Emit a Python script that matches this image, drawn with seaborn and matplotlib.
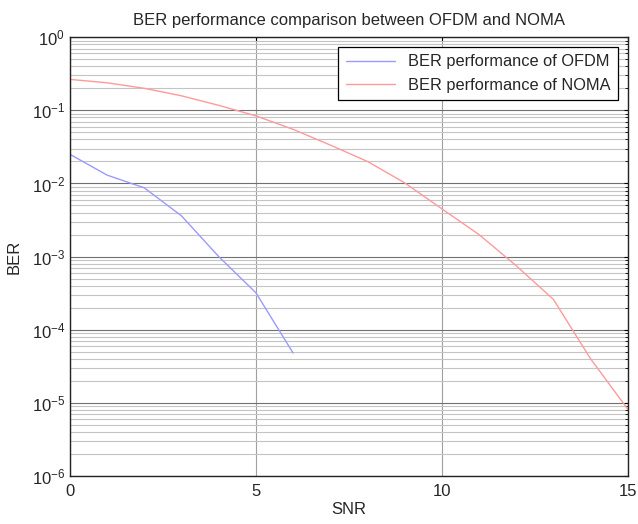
import numpy as np
import pandas as pd
import matplotlib
matplotlib.use("Agg")
import matplotlib.pyplot as plt
import seaborn as sns
from matplotlib.ticker import LogLocator, NullFormatter

snr_ofdm = [0, 1, 2, 3, 4, 5, 6]
ber_ofdm = [0.025, 0.013, 0.0087, 0.0036, 0.001, 0.00032, 0.000048]

snr_noma = [0, 1, 2, 3, 4, 5, 6, 7, 8, 9, 10, 11, 12, 13, 14, 15]
ber_noma = [0.265, 0.238, 0.20, 0.158, 0.117, 0.084, 0.055, 0.0335, 0.020, 0.0102,
            0.0045, 0.002, 0.00075, 0.00026, 0.00004, 0.0000082]

label_ofdm = "BER performance of OFDM"
label_noma = "BER performance of NOMA"

df = pd.concat([
    pd.DataFrame({"SNR": snr_ofdm, "BER": ber_ofdm, "series": label_ofdm}),
    pd.DataFrame({"SNR": snr_noma, "BER": ber_noma, "series": label_noma}),
])

sns.set_style("white")
plt.rcParams["font.family"] = ["Liberation Sans", "DejaVu Sans"]
plt.rcParams["mathtext.fontset"] = "custom"
plt.rcParams["mathtext.rm"] = "Liberation Sans"

fig = plt.figure(figsize=(6.38, 5.24), dpi=100)
ax = fig.add_axes([0.1097, 0.0916, 0.8743, 0.8374])

sns.lineplot(data=df, x="SNR", y="BER", hue="series",
             palette={label_ofdm: "#9a9aff", label_noma: "#ff9a9a"},
             linewidth=1.0, ax=ax)

ax.set_yscale("log")
ax.set_xlim(0, 15)
ax.set_ylim(1e-6, 1)
ax.set_xticks([0, 5, 10, 15])
ax.yaxis.set_major_locator(LogLocator(base=10, numticks=10))
ax.yaxis.set_minor_locator(LogLocator(base=10, subs=np.arange(2, 10), numticks=100))
ax.yaxis.set_minor_formatter(NullFormatter())

ax.grid(True, which="major", axis="y", color="#707070", linewidth=0.8)
ax.grid(True, which="major", axis="x", color="#a0a0a0", linewidth=0.8)
ax.grid(True, which="minor", axis="y", color="#c4c4c4", linewidth=0.8)
ax.set_axisbelow(True)

ax.tick_params(which="both", direction="in", top=True, right=True,
               labelsize=12, color="black")
ax.tick_params(which="major", length=3)
ax.tick_params(which="minor", length=2)
ax.tick_params(axis="x", pad=6)
for s in ax.spines.values():
    s.set_color("#222222")
    s.set_linewidth(1.0)

ax.set_title("BER performance comparison between OFDM and NOMA", fontsize=12, pad=9)
ax.set_xlabel("SNR", fontsize=12, labelpad=2)
ax.set_ylabel("BER", fontsize=12, labelpad=7)

leg = ax.legend(loc="upper right", fontsize=11.8, frameon=True, fancybox=False,
                edgecolor="black", framealpha=1, borderaxespad=0.6,
                handlelength=3.0, borderpad=0.45, labelspacing=0.5)
leg.get_frame().set_linewidth(0.9)

fig.savefig("out.png", dpi=100)
